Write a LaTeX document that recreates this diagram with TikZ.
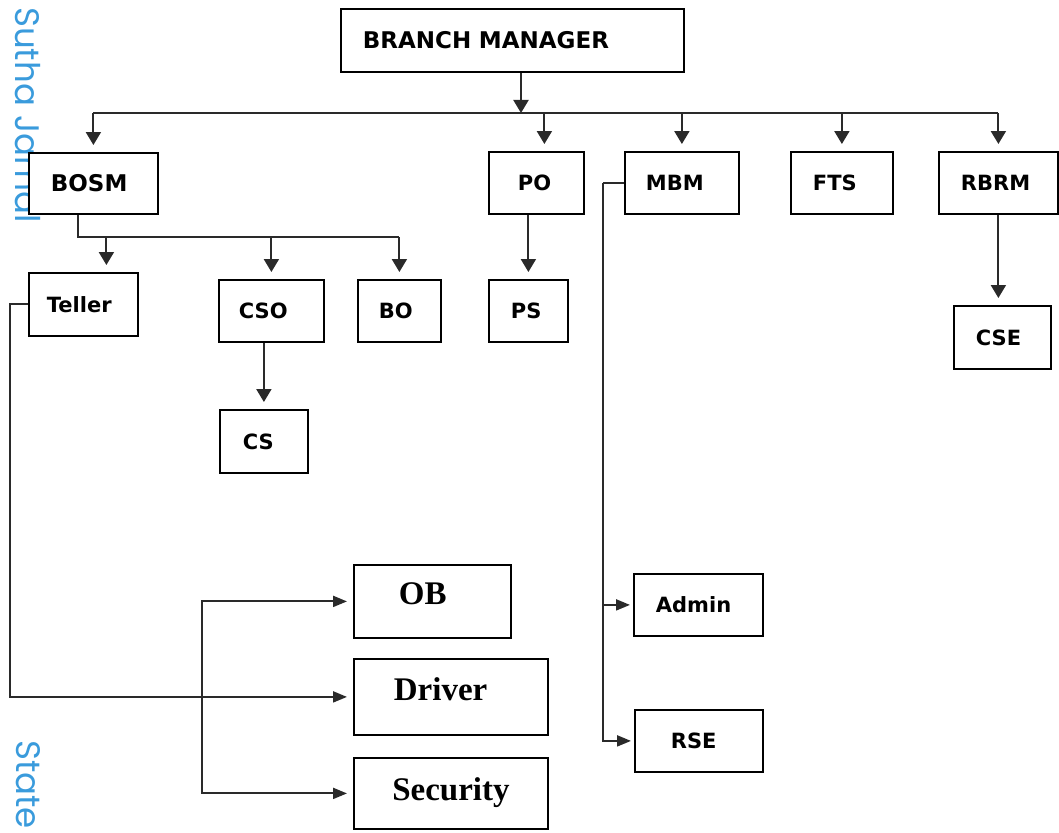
\documentclass[tikz,border=0pt]{standalone}
\usepackage{fontspec}
\setmainfont{DejaVu Sans}
\newfontfamily\titlefont{Liberation Serif}
\newfontfamily\markfont{Poppins}
\usetikzlibrary{arrows.meta,calc}
\definecolor{markblue}{HTML}{3A9BDC}
\definecolor{linegrey}{HTML}{2A2A2A}

\begin{document}
\begin{tikzpicture}[x=1pt, y=-1pt,
  box/.style={draw=black, fill=white, line width=1.8pt, anchor=north west, align=left, inner ysep=0pt,
    font=\bfseries\fontsize{21}{25}\selectfont},
  bigbox/.style={box, inner xsep=40pt, text height=23pt, text depth=16pt,
    font=\titlefont\bfseries\fontsize{33}{38}\selectfont},
  wmark/.style={text=markblue, inner sep=0pt, font=\markfont\fontsize{34}{40}\selectfont},
  line/.style={linegrey, line width=2pt},
  arr/.style={line, -{Triangle[length=13pt,width=15pt]}},
  feed/.style={arr, shorten >=7pt},
  side/.style={line, -{Triangle[length=14pt,width=11pt]}, shorten >=6pt}]
\useasboundingbox (0,0) rectangle (1059,832);
% watermark
\node[wmark, rotate=-90, anchor=north west] (wm1) at (41,7) {Sutha Jamal};
\node[wmark, rotate=-90, anchor=north west] (wm2) at (41,740) {State};
% boxes
\node[box, font=\bfseries\fontsize{23}{27}\selectfont, inner xsep=22pt, text width=299pt, minimum height=63pt] (bm) at (340,8) {BRANCH MANAGER};
\node[box, font=\bfseries\fontsize{23}{27}\selectfont, inner xsep=22pt, text width=85pt, minimum height=61pt] (bosm) at (28,152) {BOSM};
\node[box, inner xsep=29pt, text width=37pt, minimum height=62pt] (po) at (488,151) {PO};
\node[box, inner xsep=21pt, text width=72pt, minimum height=62pt] (mbm) at (624,151) {MBM};
\node[box, inner xsep=22pt, text width=58pt, minimum height=62pt] (fts) at (790,151) {FTS};
\node[box, inner xsep=22pt, text width=75pt, minimum height=62pt] (rbrm) at (938,151) {RBRM};
\node[box, inner xsep=18pt, text width=73pt, minimum height=63pt] (teller) at (28,272) {Teller};
\node[box, inner xsep=20pt, text width=65pt, minimum height=62pt] (cso) at (218,279) {CSO};
\node[box, inner xsep=21pt, text width=41pt, minimum height=62pt] (bo) at (357,279) {BO};
\node[box, inner xsep=22pt, text width=35pt, minimum height=62pt] (ps) at (488,279) {PS};
\node[box, inner xsep=22pt, text width=53pt, minimum height=63pt] (cse) at (953,305) {CSE};
\node[box, inner xsep=23pt, text width=42pt, minimum height=63pt] (cs) at (219,409) {CS};
\node[box, inner xsep=22pt, text width=85pt, minimum height=62pt] (admin) at (633,573) {Admin};
\node[box, inner xsep=36pt, text width=56pt, minimum height=62pt] (rse) at (634,709) {RSE};
\node[bigbox, inner xsep=45pt, text width=67pt, minimum height=73pt] (ob) at (353,564) {OB};
\node[bigbox, text width=114pt, minimum height=76pt] (driver) at (353,658) {Driver};
\node[bigbox, inner xsep=8pt, align=center, text depth=8pt, text width=178pt, minimum height=71pt] (security) at (353,757) {Security};
% top level
\coordinate (bus) at (521,113);
\draw[arr] (bm.south -| bus) -- (bus);
\draw[line] (bus -| bosm.north) -- (bus -| rbrm.north);
\foreach \n in {bosm,mbm,fts,rbrm}
  \draw[feed] (bus -| \n.north) -- (\n.north);
\draw[feed] ([xshift=8pt]po.north |- bus) -- ([xshift=8pt]po.north);
% under BOSM
\coordinate (sub) at (78,237);
\draw[line] (bosm.south -| sub) -- (sub) -- (sub -| bo.north);
\draw[feed] ([xshift=23pt]teller.north |- sub) -- ([xshift=23pt]teller.north);
\draw[feed] (sub -| cso.north) -- (cso.north);
\draw[feed] (sub -| bo.north) -- (bo.north);
\draw[feed] (po.south -| ps.north) -- (ps.north);
\draw[feed] (cso.south -| cs.north) -- (cs.north);
\draw[feed] (rbrm.south) -- (rbrm.south |- cse.north);
% side links
\draw[side] (teller.west) -- ++(-18,0) |- (driver.west);
\draw[line] (mbm.west) -- ++(-21,0) coordinate (mj);
\draw[side, shorten >=3pt] (mj) |- (admin.west);
\draw[side, shorten >=3pt] (mj) |- (rse.west);
\coordinate (oj) at (202,700);
\draw[side] (oj) |- (ob.west);
\draw[side] (oj) |- (security.west);
\end{tikzpicture}
\end{document}
